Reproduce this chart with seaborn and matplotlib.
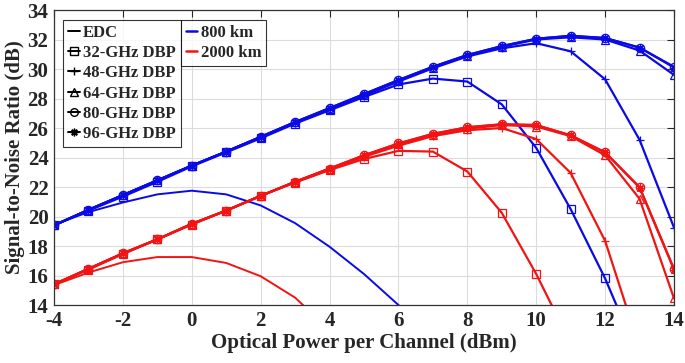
import matplotlib
matplotlib.use("Agg")
import matplotlib.pyplot as plt
from matplotlib.lines import Line2D
import seaborn as sns
import pandas as pd

# optical launch power per channel (dBm)
power = [-4, -3, -2, -1, 0, 1, 2, 3, 4, 5, 6, 7, 8, 9, 10, 11, 12, 13, 14]

# SNR (dB), 800 km
snr_800_edc = [19.45, 20.3, 20.95, 21.5, 21.75, 21.5, 20.75, 19.55, 17.95, 16.1, 14.0, 11.8, None, None, None, None, None, None, None]
snr_800_32 = [19.4, 20.4, 21.35, 22.35, 23.4, 24.35, 25.3, 26.3, 27.2, 28.1, 28.95, 29.35, 29.15, 27.6, 24.65, 20.5, 15.8, 10.3, None]
snr_800_48 = [19.4, 20.45, 21.45, 22.45, 23.45, 24.4, 25.35, 26.35, 27.3, 28.2, 29.15, 30.05, 30.85, 31.4, 31.75, 31.2, 29.3, 25.2, 19.25]
snr_800_64 = [19.4, 20.45, 21.45, 22.45, 23.45, 24.4, 25.4, 26.4, 27.3, 28.25, 29.2, 30.1, 30.9, 31.5, 32.0, 32.15, 32.0, 31.25, 29.6]
snr_800_80 = [19.4, 20.45, 21.45, 22.45, 23.45, 24.4, 25.4, 26.4, 27.35, 28.3, 29.25, 30.15, 30.95, 31.55, 32.05, 32.25, 32.1, 31.45, 30.15]
snr_800_96 = [19.4, 20.45, 21.45, 22.45, 23.45, 24.4, 25.4, 26.4, 27.35, 28.3, 29.25, 30.15, 30.95, 31.55, 32.05, 32.25, 32.1, 31.45, 30.1]

# SNR (dB), 2000 km
snr_2000_edc = [15.35, 16.2, 16.9, 17.25, 17.25, 16.85, 15.95, 14.5, 12.3, None, None, None, None, None, None, None, None, None, None]
snr_2000_32 = [15.4, 16.4, 17.45, 18.45, 19.45, 20.4, 21.4, 22.3, 23.15, 23.9, 24.45, 24.4, 23.05, 20.25, 16.1, 11.4, None, None, None]
snr_2000_48 = [15.4, 16.45, 17.5, 18.45, 19.5, 20.4, 21.4, 22.35, 23.2, 24.05, 24.8, 25.45, 25.85, 26.0, 25.25, 22.95, 18.35, 11.1, None]
snr_2000_64 = [15.4, 16.45, 17.5, 18.45, 19.5, 20.4, 21.4, 22.35, 23.25, 24.1, 24.9, 25.55, 25.95, 26.2, 26.1, 25.45, 24.15, 21.2, 14.45]
snr_2000_80 = [15.4, 16.45, 17.5, 18.45, 19.5, 20.4, 21.4, 22.35, 23.25, 24.15, 24.95, 25.6, 26.05, 26.25, 26.2, 25.5, 24.35, 22.0, 16.45]
snr_2000_96 = [15.4, 16.45, 17.5, 18.45, 19.5, 20.4, 21.4, 22.35, 23.25, 24.15, 24.95, 25.6, 26.05, 26.25, 26.2, 25.5, 24.35, 21.95, 16.4]

methods = ["EDC", "32-GHz DBP", "48-GHz DBP", "64-GHz DBP", "80-GHz DBP", "96-GHz DBP"]
distances = ["800 km", "2000 km"]

snr = {
    "800 km": [snr_800_edc, snr_800_32, snr_800_48, snr_800_64, snr_800_80, snr_800_96],
    "2000 km": [snr_2000_edc, snr_2000_32, snr_2000_48, snr_2000_64, snr_2000_80, snr_2000_96],
}

colors = {"800 km": "#0a0ae6", "2000 km": "#f01414"}
markers = {"EDC": None, "32-GHz DBP": "s", "48-GHz DBP": "+", "64-GHz DBP": "^",
           "80-GHz DBP": "o", "96-GHz DBP": (8, 2, 0)}

sns.set_style("white")
plt.rcParams["font.family"] = ["Liberation Serif", "DejaVu Serif"]
plt.rcParams["font.weight"] = "bold"
plt.rcParams["axes.unicode_minus"] = False

fig = plt.figure(figsize=(6.85, 3.63), dpi=100)
ax = fig.add_axes([54 / 685, 1 - 305 / 363, 620 / 685, 295 / 363])

for dist in distances:
    for method, vals in zip(methods, snr[dist]):
        df = pd.DataFrame({"power": power, "snr": vals}).dropna()
        lw = 1.4 if method == "EDC" else 1.6
        sns.lineplot(data=df, x="power", y="snr", ax=ax, color=colors[dist], lw=lw,
                     marker=markers[method], markersize=6, fillstyle="none",
                     markeredgewidth=0.9, markeredgecolor=colors[dist], legend=False)

ax.set_xlim(-4, 14)
ax.set_ylim(14, 34)
ax.set_xticks(range(-4, 15, 2))
ax.set_yticks(range(14, 35, 2))
ax.grid(True, color="#dcdcdc", lw=0.8)
ax.tick_params(direction="in", top=True, right=True, length=5, width=0.8, labelsize=15, pad=4)
for lbl in ax.get_xticklabels() + ax.get_yticklabels():
    lbl.set_fontweight("bold")
for s in ax.spines.values():
    s.set_color("#333333")
    s.set_linewidth(0.9)
ax.set_xlabel("Optical Power per Channel (dBm)", fontsize=15, fontweight="bold", labelpad=2)
ax.set_ylabel("Signal-to-Noise Ratio (dB)", fontsize=15, fontweight="bold", labelpad=2)

handles1 = [Line2D([], [], color="black", lw=1.4, marker=markers[m], markersize=5.5,
                   fillstyle="none", markeredgewidth=1.0) for m in methods]
leg1 = ax.legend(handles1, methods, loc="upper left", bbox_to_anchor=(9 / 620, 1 - 10 / 295),
                 frameon=True, fancybox=False, edgecolor="black", handlelength=0.7,
                 handletextpad=0.2, borderpad=0.3, labelspacing=0.25, borderaxespad=0,
                 prop={"size": 12, "weight": "bold"})
leg1.get_frame().set_linewidth(0.8)
ax.add_artist(leg1)

handles2 = [Line2D([], [], color=colors[d], lw=1.8) for d in distances]
leg2 = ax.legend(handles2, distances, loc="upper left", bbox_to_anchor=(126.7 / 620, 1 - 10 / 295),
                 frameon=True, fancybox=False, edgecolor="black", handlelength=0.7,
                 handletextpad=0.2, borderpad=0.3, labelspacing=0.25, borderaxespad=0,
                 prop={"size": 12, "weight": "bold"})
leg2.get_frame().set_linewidth(0.8)

fig.savefig("out.png", dpi=100)
